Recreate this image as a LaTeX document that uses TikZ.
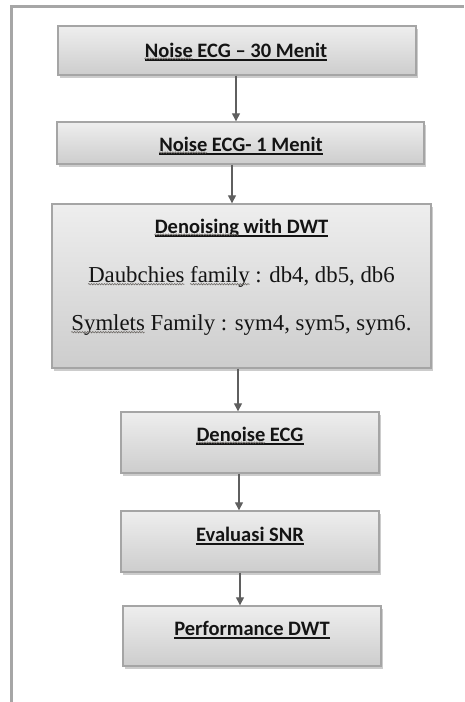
\documentclass[tikz,border=0pt]{standalone}
\usepackage{fontspec}
\setmainfont{Liberation Serif}
\newfontfamily\headfont{Carlito}
\usetikzlibrary{arrows.meta,shadows,decorations.pathmorphing}

\definecolor{ink}{HTML}{141414}
\definecolor{arrowgray}{HTML}{5F5F5F}
\definecolor{boxedge}{HTML}{A5A5A5}
\definecolor{boxtop}{HTML}{EEEEEE}
\definecolor{boxbottom}{HTML}{CDCDCD}
\definecolor{framegray}{HTML}{A6A6A6}
\definecolor{wavegray}{HTML}{6E6A66}

\newcommand\headsize{\headfont\bfseries\fontsize{20.5}{24}\selectfont}
\newcommand\bodysize{\fontsize{22.8}{27}\selectfont}

% word widths for the wavy marks under flagged words
\newlength\wNoise    \settowidth\wNoise{\headsize Noise}
\newlength\wDenoising\settowidth\wDenoising{\headsize Denoising}
\newlength\wDenoise  \settowidth\wDenoise{\headsize Denoise}
\newlength\wDaub     \settowidth\wDaub{\bodysize Daubchies}
\newlength\wDaubSp   \settowidth\wDaubSp{\bodysize Daubchies }
\newlength\wfamily   \settowidth\wfamily{\bodysize family}
\newlength\wSymlets  \settowidth\wSymlets{\bodysize Symlets}

\begin{document}
\begin{tikzpicture}[x=1pt,y=-1pt,
  box/.style={draw=boxedge, line width=1.4pt, top color=boxtop, bottom color=boxbottom,
    drop shadow={shadow xshift=2pt, shadow yshift=-2.5pt, fill=black, opacity=0.2},
    inner sep=0pt, anchor=center},
  head/.style={font=\headsize, text=ink, inner sep=0pt, anchor=base},
  body/.style={font=\bodysize, text=ink, inner sep=0pt, anchor=base},
  rulebar/.style={draw=ink, line width=1.2pt},
  wave/.style={draw=wavegray, line width=0.6pt, decorate,
    decoration={snake, amplitude=0.7pt, segment length=2.6pt}},
  arr/.style={draw=arrowgray, line width=1.3pt, -{Triangle[length=8pt,width=8pt]}},
  frameline/.style={draw=framegray, line width=3pt}]

\useasboundingbox (0,0) rectangle (464,702);

% page frame (left and top edges)
\draw[frameline] (11.5,702) -- (11.5,6.5) -- (464,6.5);

% process boxes
\node[box, minimum width=358, minimum height=49] (b1) at (237,50.5) {};
\node[box, minimum width=367, minimum height=42] (b2) at (240.5,143) {};
\node[box, minimum width=379, minimum height=164] (b3) at (241.5,286) {};
\node[box, minimum width=258, minimum height=61] (b4) at (250,442.5) {};
\node[box, minimum width=258, minimum height=61] (b5) at (250,541.5) {};
\node[box, minimum width=258, minimum height=60] (b6) at (252,636) {};

% headings
\node[head] (t1) at (236,57) {Noise ECG – 30 Menit};
\node[head] (t2) at (241,151) {Noise ECG- 1 Menit};
\node[head] (t3) at (241.5,233) {Denoising with DWT};
\node[head] (t4) at (250,441) {Denoise ECG};
\node[head] (t5) at (250,541) {Evaluasi SNR};
\node[head] (t6) at (252,635) {Performance DWT};
\foreach \t in {t1,t2,t3,t4,t5,t6}
  \draw[rulebar] ([yshift=-3pt]\t.base west) -- ([yshift=-3pt]\t.base east);

% wavelet families
\node[body] (l1) at (241.5,282) {Daubchies family : db4, db5, db6};
\node[body] (l2) at (241.5,330) {Symlets Family : sym4, sym5, sym6.};

% wavy marks under flagged words
\draw[wave] ([yshift=-1.6pt]t1.base west) -- ++(\wNoise,0);
\draw[wave] ([yshift=-1.6pt]t2.base west) -- ++(\wNoise,0);
\draw[wave] ([yshift=-1.6pt]t3.base west) -- ++(\wDenoising,0);
\draw[wave] ([yshift=-1.6pt]t4.base west) -- ++(\wDenoise,0);
\draw[wave] ([yshift=-2.2pt]l1.base west) -- ++(\wDaub,0);
\draw[wave] ([yshift=-2.2pt,xshift=\wDaubSp]l1.base west) -- ++(\wfamily,0);
\draw[wave] ([yshift=-2.2pt]l2.base west) -- ++(\wSymlets,0);

% connectors
\coordinate (c1) at (236,0);
\coordinate (c2) at (232,0);
\coordinate (c3) at (238,0);
\coordinate (c4) at (239,0);
\coordinate (c5) at (240,0);
\draw[arr] (b1.south -| c1) -- (b2.north -| c1);
\draw[arr] (b2.south -| c2) -- (b3.north -| c2);
\draw[arr] (b3.south -| c3) -- (b4.north -| c3);
\draw[arr] (b4.south -| c4) -- (b5.north -| c4);
\draw[arr] (b5.south -| c5) -- (b6.north -| c5);
\end{tikzpicture}
\end{document}
